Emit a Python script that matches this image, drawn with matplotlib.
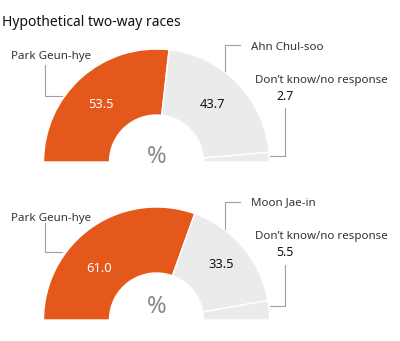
import matplotlib.pyplot as plt

# poll results, percent
races = ["Ahn Chul-soo", "Moon Jae-in"]
park = [53.5, 61.0]
rival = [43.7, 33.5]
dunno = [2.7, 5.5]

orange = '#e5581b'
grey = '#ebebeb'
line_c = '#a0a0a0'
H = 341

plt.rcParams['font.family'] = ['Noto Sans', 'DejaVu Sans']

fig = plt.figure(figsize=(4, 3.41), dpi=100)
ax = fig.add_axes([0, 0, 1, 1])

# y positions (pixels from top) of each half-donut's base
bases = [162, 320]
cx = 156.5
R = 113
hole = 47

for i in range(2):
    vals = [park[i], rival[i], dunno[i]]
    total = sum(vals)
    wedges, _ = ax.pie(vals + [total], colors=[orange, grey, grey, 'none'],
                       startangle=180, counterclock=False, radius=R,
                       center=(cx, H - bases[i]),
                       wedgeprops=dict(width=R - hole, edgecolor='white', linewidth=1.0))
    wedges[-1].set_edgecolor('none')

ax.set_xlim(0, 400)
ax.set_ylim(0, H)
ax.set_aspect('auto')
ax.axis('off')


def px(x, y):
    return x, H - y


fs = 8.3
ax.text(*px(2, 23), "Hypothetical two-way races", fontsize=10, va='center', ha='left', color='#111111')

label_y = [
    # park label, rival label, dunno label, dunno value, park val pos, rival val pos, percent
    dict(park=57, rival=47, dk=80, dkv=96, pv=(101, 104), rv=(212, 104), pct=157),
    dict(park=218, rival=203, dk=237, dkv=253, pv=(99, 268), rv=(221, 265), pct=307),
]
leaders = [
    dict(park=(65, 96), rival=(45, 71), dk=(108, 156)),
    dict(park=(223, 252), rival=(202, 229), dk=(265, 306)),
]

for i in range(2):
    L = label_y[i]
    ld = leaders[i]
    ax.text(*px(11, L['park']), "Park Geun-hye", fontsize=fs, va='center', ha='left', color='#333333')
    ax.text(*px(251, L['rival']), races[i], fontsize=fs, va='center', ha='left', color='#333333')
    ax.text(*px(255, L['dk']), "Don\u2019t know/no response", fontsize=fs, va='center', ha='left', color='#333333')
    ax.text(*px(285, L['dkv']), f"{dunno[i]:.1f}", fontsize=fs + 0.5, va='center', ha='center', color='#111111')
    ax.text(*px(*L['pv']), f"{park[i]:.1f}", fontsize=fs + 1, va='center', ha='center', color='white')
    ax.text(*px(*L['rv']), f"{rival[i]:.1f}", fontsize=fs + 1, va='center', ha='center', color='#111111')
    ax.text(*px(cx, L['pct']), "%", fontsize=17, va='center', ha='center', color='#8a8a8a')

    # leader lines
    y0, y1 = ld['park']
    ax.plot([45, 45, 62], [H - y0, H - y1, H - y1], color=line_c, lw=0.8)
    y0, y1 = ld['rival']
    ax.plot([240, 225, 225], [H - y0, H - y0, H - y1], color=line_c, lw=0.8)
    y0, y1 = ld['dk']
    ax.plot([285, 285, 270], [H - y0, H - y1, H - y1], color=line_c, lw=0.8)

fig.savefig('out.png', dpi=100)
